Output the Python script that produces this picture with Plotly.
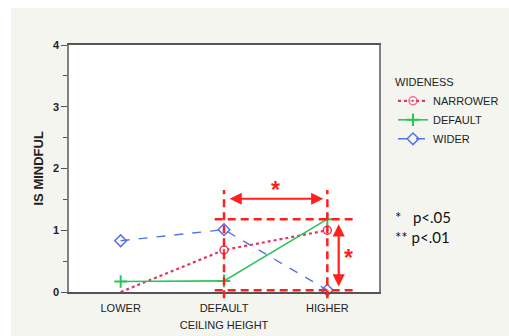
import plotly.graph_objects as go

# Ceiling-height conditions on the x axis
heights = ["LOWER", "DEFAULT", "HIGHER"]

# Mean "is mindful" score per wideness condition
narrower = [0.0, 0.68, 1.00]
default = [0.17, 0.18, 1.18]
wider = [0.83, 1.01, 0.03]

y_ticks = [0, 1, 2, 3, 4]

RED = "#ff1f1f"
FONT = "Liberation Sans, Arial, sans-serif"

fig = go.Figure()

fig.add_trace(go.Scatter(
    x=heights, y=narrower, name="NARROWER", mode="lines+markers",
    line=dict(color="#e8335c", width=2.2, dash="dot"),
    marker=dict(symbol="circle-dot", size=8, color="#ffffff",
                opacity=[0, 1, 1],
                line=dict(color="#e8335c", width=1.5)),
))
fig.add_trace(go.Scatter(
    x=heights, y=default, name="DEFAULT", mode="lines+markers",
    line=dict(color="#2ec35a", width=1.6),
    marker=dict(symbol="cross-thin", size=9, color="#2ec35a",
                line=dict(color="#2ec35a", width=2)),
    cliponaxis=False,
))
fig.add_trace(go.Scatter(
    x=heights, y=wider, name="WIDER", mode="lines+markers",
    line=dict(color="#5572e8", width=1.4, dash="dash"),
    marker=dict(symbol="diamond-open", size=9,
                line=dict(color="#5572e8", width=1.5)),
    cliponaxis=False,
))

# Significance brackets between DEFAULT and HIGHER
dash_line = dict(color=RED, width=2.5, dash="8px,5px")
shapes = []
for cat in ["DEFAULT", "HIGHER"]:
    shapes.append(dict(type="line", xref="x", yref="paper",
                       x0=cat, x1=cat, y0=-0.025, y1=0.413, line=dash_line))
for lvl in [max(default), min(wider)]:
    shapes.append(dict(type="line", xref="paper", yref="y",
                       x0=0.47, x1=0.915, y0=lvl, y1=lvl, line=dash_line))

# Outer page strips
shapes.append(dict(type="rect", xref="paper", yref="paper", layer="below",
                   x0=-69 / 310, x1=(509 - 69) / 310, y0=(292 - 8) / 247, y1=(292 + 10) / 247,
                   fillcolor="#ffffff", line=dict(width=0)))
shapes.append(dict(type="rect", xref="paper", yref="paper", layer="below",
                   x0=-69 / 310 - 0.01, x1=(11 - 69) / 310, y0=-44 / 247, y1=(292 + 10) / 247,
                   fillcolor="#ffffff", line=dict(width=0)))

annotations = [
    # horizontal arrow
    dict(x=1.96, y=1.51, ax=1.04, ay=1.51, xref="x", yref="y", axref="x", ayref="y",
         text="", showarrow=True, arrowhead=2, arrowside="end+start",
         arrowsize=1.1, arrowwidth=2.2, arrowcolor=RED),
    dict(x=1.5, y=1.66, xref="x", yref="y", text="<b>*</b>", showarrow=False,
         font=dict(size=23, color=RED, family=FONT)),
    # vertical arrow
    dict(x=2.11, y=0.09, ax=2.11, ay=1.12, xref="x", yref="y", axref="x", ayref="y",
         text="", showarrow=True, arrowhead=2, arrowside="end+start",
         arrowsize=1.1, arrowwidth=2.2, arrowcolor=RED),
    dict(x=2.2, y=0.55, xref="x", yref="y", text="<b>*</b>", showarrow=False,
         font=dict(size=23, color=RED, family=FONT)),
    # y axis title
    dict(x=(38 - 69) / 310, y=0.5, xref="paper", yref="paper", text="<b>IS MINDFUL</b>",
         xanchor="center", yanchor="middle",
         textangle=-90, showarrow=False, font=dict(size=13, color="#222222", family=FONT)),
    # significance key
    dict(x=(393 - 69) / 310, y=(292 - 228) / 247, xref="paper", yref="paper",
         xanchor="left", text="*   p&lt;.05", showarrow=False, align="left",
         font=dict(size=15, color="#111111", family="Lato, Carlito, sans-serif")),
    dict(x=(393 - 69) / 310, y=(292 - 248) / 247, xref="paper", yref="paper",
         xanchor="left", text="** p&lt;.01", showarrow=False, align="left",
         font=dict(size=15, color="#111111", family="Lato, Carlito, sans-serif")),
]

fig.update_layout(
    width=509, height=336,
    margin=dict(l=69, r=130, t=45, b=44, autoexpand=False),
    paper_bgcolor="#f5f5f0",
    plot_bgcolor="#ffffff",
    font=dict(family=FONT, color="#222222"),
    showlegend=True,
    legend=dict(
        title=dict(text="WIDENESS", font=dict(size=11, family=FONT)),
        x=(393 - 69) / 310, y=(292 - 72) / 247, xanchor="left", yanchor="top",
        bgcolor="rgba(0,0,0,0)", font=dict(size=11, family=FONT),
        itemwidth=30, tracegroupgap=0,
    ),
    shapes=shapes,
    annotations=annotations,
)

fig.update_xaxes(
    type="category", categoryorder="array", categoryarray=heights,
    range=[-0.5, 2.5], showgrid=False, zeroline=False,
    showline=True, linecolor="#555555", linewidth=1.5, mirror=True,
    ticks="", ticklabelstandoff=5, tickfont=dict(size=11, color="#222222"),
    title=dict(text="CEILING HEIGHT", font=dict(size=11, color="#222222"), standoff=8),
)
fig.update_yaxes(
    range=[0, 4], tickvals=y_ticks, showgrid=False, zeroline=False,
    showline=True, linecolor="#808080", linewidth=1.5, mirror=True,
    ticks="outside", ticklen=6, tickcolor="#555555",
    minor=dict(dtick=0.5, ticks="outside", ticklen=4, tickcolor="#555555"),
    tickfont=dict(size=11, color="#222222", weight="bold"),
)

fig.write_html("out.html")
